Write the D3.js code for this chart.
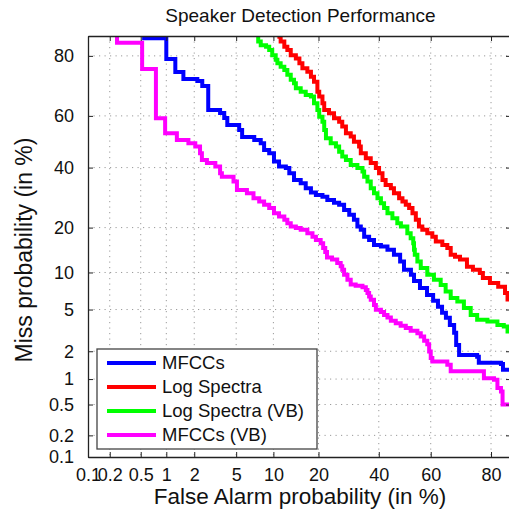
<!DOCTYPE html>
<html>
<head>
<meta charset="utf-8">
<script src="https://cdn.jsdelivr.net/npm/d3@7"></script>
<style>
  body { margin: 0; background: #fff; }
  text { font-family: "Liberation Sans", Arial, sans-serif; fill: #111; }
</style>
</head>
<body>
<div id="chart"></div>
<script>
// DET curves, values in percent: [false alarm %, miss %]
const tickValues = [0.1, 0.2, 0.5, 1, 2, 5, 10, 20, 40, 60, 80];
const tickLabels = ["0.1", "0.2", "0.5", "1", "2", "5", "10", "20", "40", "60", "80"];
const axisMin = 0.1;
const axisMax = 85;

const seriesNames = ["MFCCs", "Log Spectra", "Log Spectra (VB)", "MFCCs (VB)"];
const seriesColors = ["#0000ff", "#ff0000", "#00ff00", "#ff00ff"];

const mfccs = [[0.52,84.5],[1.0,79.1],[1.26,75.3],[1.54,73.1],[2.15,72.4],[2.41,70.8],[2.76,62.2],[3.58,61.1],[3.91,59.2],[4.17,56.5],[5.31,54.6],[5.63,51.9],[7.10,50.7],[8.0,49.4],[8.5,46.8],[9.3,45.5],[10.1,42.3],[11.0,40.4],[12.3,39.8],[13.0,37.9],[14.0,35.4],[15.5,34.2],[16.7,32.4],[18.0,30.9],[19.3,30.1],[21.1,29.5],[22.5,28.4],[24.5,27.5],[26.1,26.8],[27.7,25.2],[29.4,23.7],[31.0,22.2],[32.2,20.3],[33.4,19.4],[34.6,17.6],[36.4,16.8],[38.2,15.6],[40.8,15.2],[43.3,14.5],[45.8,13.4],[48.2,12.0],[49.7,10.5],[52.4,9.6],[53.6,8.6],[55.9,7.6],[58.6,6.66],[60.9,5.95],[62.7,5.28],[64.2,4.68],[65.6,4.22],[67.0,3.62],[68.5,3.05],[69.2,2.32],[70.2,1.83],[76.0,1.75],[76.5,1.51],[82.6,1.47],[83.1,1.27],[85,1.27]];

const logSpectra = [[10.7,84.8],[11.3,83.7],[12.0,82.4],[12.6,81.6],[13.3,80.2],[14.4,79.3],[15.2,77.9],[15.9,76.4],[17.1,75.4],[18.0,73.8],[18.8,72.2],[19.7,68.8],[20.2,67.1],[21.1,64.7],[21.6,62.2],[23.0,61.0],[24.5,59.1],[26.1,57.8],[27.1,55.9],[28.3,53.3],[29.9,52.0],[31.0,50.0],[32.8,48.1],[33.4,45.5],[35.2,43.6],[37.0,41.7],[38.9,39.8],[40.1,37.9],[41.4,35.4],[42.6,33.6],[44.6,32.4],[45.8,30.7],[47.8,29.0],[49.1,27.9],[50.4,26.8],[51.7,25.8],[53.0,24.2],[54.3,22.2],[55.5,20.3],[56.8,19.4],[58.7,18.5],[60.6,17.6],[61.9,16.4],[64.3,15.6],[66.1,14.9],[67.3,13.4],[68.8,13.0],[70.5,12.4],[72.8,11.0],[74.7,10.5],[76.8,9.9],[77.7,9.1],[79.7,8.3],[81.9,7.75],[83.6,6.9],[84.2,6.1],[85,5.3]];

const logSpectraVB = [[7.55,84.8],[7.64,83.7],[8.0,82.8],[8.8,82.4],[9.3,81.6],[9.8,80.2],[10.4,78.9],[10.7,77.9],[11.3,76.9],[12.0,75.9],[12.6,74.4],[13.3,72.8],[14.0,71.7],[14.4,70.0],[15.5,68.8],[16.7,67.7],[18.0,67.1],[18.8,64.7],[19.7,62.2],[20.2,59.7],[21.1,57.8],[21.6,54.6],[22.1,51.4],[23.5,49.4],[25.1,48.1],[26.1,46.1],[27.1,44.2],[28.3,42.9],[29.9,41.0],[32.2,39.8],[34.0,38.5],[34.6,36.6],[35.8,34.8],[37.0,32.4],[38.2,30.7],[39.5,29.0],[40.8,27.3],[42.0,25.8],[43.3,24.2],[45.2,22.7],[47.1,21.2],[48.5,20.3],[51.0,18.5],[52.3,17.2],[53.3,16.0],[53.6,14.5],[53.9,13.4],[54.9,12.0],[56.2,10.8],[58.7,9.6],[61.2,8.8],[63.7,8.0],[65.5,7.1],[67.3,6.27],[69.6,5.87],[71.8,5.15],[74.0,4.48],[76.0,4.05],[79.0,3.91],[81.7,3.62],[83.3,3.5],[84.2,3.15],[85,2.9]];

const mfccsVB = [[0.1,95],[0.25,83.4],[0.52,76.2],[0.76,59.1],[0.97,53.3],[1.31,50.7],[1.74,49.4],[2.05,48.1],[2.29,45.5],[2.39,42.9],[2.68,41.7],[3.23,40.4],[3.58,37.9],[3.72,36.6],[4.74,34.8],[5.08,31.8],[6.18,30.7],[7.0,29.0],[7.78,27.9],[8.5,26.8],[9.3,25.8],[10.1,24.2],[11.0,23.2],[12.0,22.2],[12.6,21.2],[13.3,20.3],[14.4,19.9],[15.5,19.4],[17.1,18.5],[18.4,17.6],[19.3,16.8],[20.6,16.0],[21.3,14.9],[21.9,14.0],[22.4,12.8],[23.9,12.4],[25.5,11.75],[26.6,11.1],[27.1,10.5],[27.7,9.6],[28.8,8.8],[29.9,8.1],[31.6,7.9],[34.0,7.7],[35.2,7.3],[35.8,6.9],[36.4,6.46],[37.0,6.07],[38.2,5.48],[38.9,4.98],[40.8,4.75],[42.0,4.48],[43.3,4.25],[44.6,3.96],[46.5,3.77],[48.4,3.57],[50.4,3.39],[52.3,3.19],[54.9,3.03],[56.2,2.81],[57.5,2.55],[58.7,2.36],[59.4,1.99],[60.0,1.70],[60.6,1.56],[66.1,1.44],[67.3,1.22],[77.0,1.22],[78.0,1.02],[80.8,0.98],[81.7,0.79],[82.6,0.72],[83.0,0.50],[85,0.50]];

const allSeries = [mfccs, logSpectra, logSpectraVB, mfccsVB];

// inverse normal CDF (Acklam), percent in
function probit(pct) {
    const p = pct / 100;
    const a = [-39.69683028665376, 220.9460984245205, -275.9285104469687, 138.3577518672690, -30.66479806614716, 2.506628277459239];
    const b = [-54.47609879822406, 161.5858368580409, -155.6989798598866, 66.80131188771972, -13.28068155288572];
    const c = [-0.007784894002430293, -0.3223964580411365, -2.400758277161838, -2.549671348400440, 4.374664141464968, 2.938163982698783];
    const d = [0.007784695709041462, 0.3224671290700398, 2.445134137142996, 3.754408661907416];
    const plow = 0.02425;
    if (p < plow) {
        const q = Math.sqrt(-2 * Math.log(p));
        return (((((c[0]*q+c[1])*q+c[2])*q+c[3])*q+c[4])*q+c[5]) / ((((d[0]*q+d[1])*q+d[2])*q+d[3])*q+1);
    }
    if (p > 1 - plow) {
        const q = Math.sqrt(-2 * Math.log(1 - p));
        return -(((((c[0]*q+c[1])*q+c[2])*q+c[3])*q+c[4])*q+c[5]) / ((((d[0]*q+d[1])*q+d[2])*q+d[3])*q+1);
    }
    const q = p - 0.5, r = q * q;
    return (((((a[0]*r+a[1])*r+a[2])*r+a[3])*r+a[4])*r+a[5])*q / (((((b[0]*r+b[1])*r+b[2])*r+b[3])*r+b[4])*r+1);
}

const width = 509, height = 510;
const plot = { left: 88, right: 511, top: 36, bottom: 457 };

const svg = d3.select("#chart").append("svg")
    .attr("width", width)
    .attr("height", height);

const x = d3.scaleLinear().domain([probit(axisMin), probit(axisMax)]).range([plot.left, plot.right]);
const y = d3.scaleLinear().domain([probit(axisMin), probit(axisMax)]).range([plot.bottom, plot.top]);
const tickZ = tickValues.map(probit);
const fmt = (d, i) => tickLabels[i];

// dotted grid
const grid = svg.append("g").attr("stroke", "#9a9a9a").attr("stroke-width", 1).attr("stroke-dasharray", "1.2,4.3");
grid.selectAll(".gx").data(tickZ.slice(1)).enter().append("line")
    .attr("x1", d => x(d)).attr("x2", d => x(d))
    .attr("y1", plot.top).attr("y2", plot.bottom);
grid.selectAll(".gy").data(tickZ.slice(1)).enter().append("line")
    .attr("y1", d => y(d)).attr("y2", d => y(d))
    .attr("x1", plot.left).attr("x2", plot.right);

// curves
svg.append("clipPath").attr("id", "clip").append("rect")
    .attr("x", plot.left).attr("y", plot.top)
    .attr("width", plot.right - plot.left).attr("height", plot.bottom - plot.top);

const line = d3.line()
    .x(d => x(probit(d[0])))
    .y(d => y(probit(d[1])))
    .curve(d3.curveStepAfter);

svg.append("g").attr("clip-path", "url(#clip)")
    .selectAll("path").data(allSeries).enter().append("path")
    .attr("d", line)
    .attr("fill", "none")
    .attr("stroke", (d, i) => seriesColors[i])
    .attr("stroke-width", 4)
    .attr("stroke-linejoin", "miter");

// axes, ticks inward on all four sides
function styleAxis(g) {
    g.selectAll("path").attr("stroke", "#222").attr("stroke-width", 1.3);
    g.selectAll("line").attr("stroke", "#222").attr("stroke-width", 1);
    g.selectAll("text").attr("font-size", "18px").attr("fill", "#111")
        .attr("font-family", '"Liberation Sans", Arial, sans-serif');
}

svg.append("g").attr("transform", `translate(0,${plot.bottom})`)
    .call(d3.axisBottom(x).tickValues(tickZ).tickFormat(fmt).tickSizeInner(-5).tickSizeOuter(0).tickPadding(11))
    .call(styleAxis);
svg.append("g").attr("transform", `translate(${plot.left},0)`)
    .call(d3.axisLeft(y).tickValues(tickZ).tickFormat(fmt).tickSizeInner(-5).tickSizeOuter(0).tickPadding(14))
    .call(styleAxis);
svg.append("g").attr("transform", `translate(0,${plot.top})`)
    .call(d3.axisTop(x).tickValues(tickZ).tickFormat("").tickSizeInner(-5).tickSizeOuter(0))
    .call(styleAxis);
svg.append("g").attr("transform", `translate(${plot.right},0)`)
    .call(d3.axisRight(y).tickValues(tickZ).tickFormat("").tickSizeInner(-5).tickSizeOuter(0))
    .call(styleAxis);

// titles
svg.append("text").attr("x", 300.5).attr("y", 22)
    .attr("text-anchor", "middle").attr("font-size", "19px")
    .text("Speaker Detection Performance");
svg.append("text").attr("x", 300).attr("y", 504)
    .attr("text-anchor", "middle").attr("font-size", "22.5px")
    .text("False Alarm probability (in %)");
svg.append("text").attr("transform", "translate(31.5,250) rotate(-90)")
    .attr("text-anchor", "middle").attr("font-size", "23px")
    .text("Miss probability (in %)");

// legend
const legend = svg.append("g").attr("transform", "translate(97,349)");
legend.append("rect")
    .attr("width", 220).attr("height", 100)
    .attr("fill", "#fff").attr("stroke", "#444").attr("stroke-width", 1.3);
const rows = legend.selectAll(".row").data(seriesNames).enter().append("g")
    .attr("transform", (d, i) => `translate(0,${14 + i * 24})`);
rows.append("line")
    .attr("x1", 10).attr("x2", 59)
    .attr("stroke", (d, i) => seriesColors[i])
    .attr("stroke-width", 4);
rows.append("text")
    .attr("x", 65).attr("dy", "0.35em")
    .attr("font-size", "18.5px")
    .text(d => d);
</script>
</body>
</html>
